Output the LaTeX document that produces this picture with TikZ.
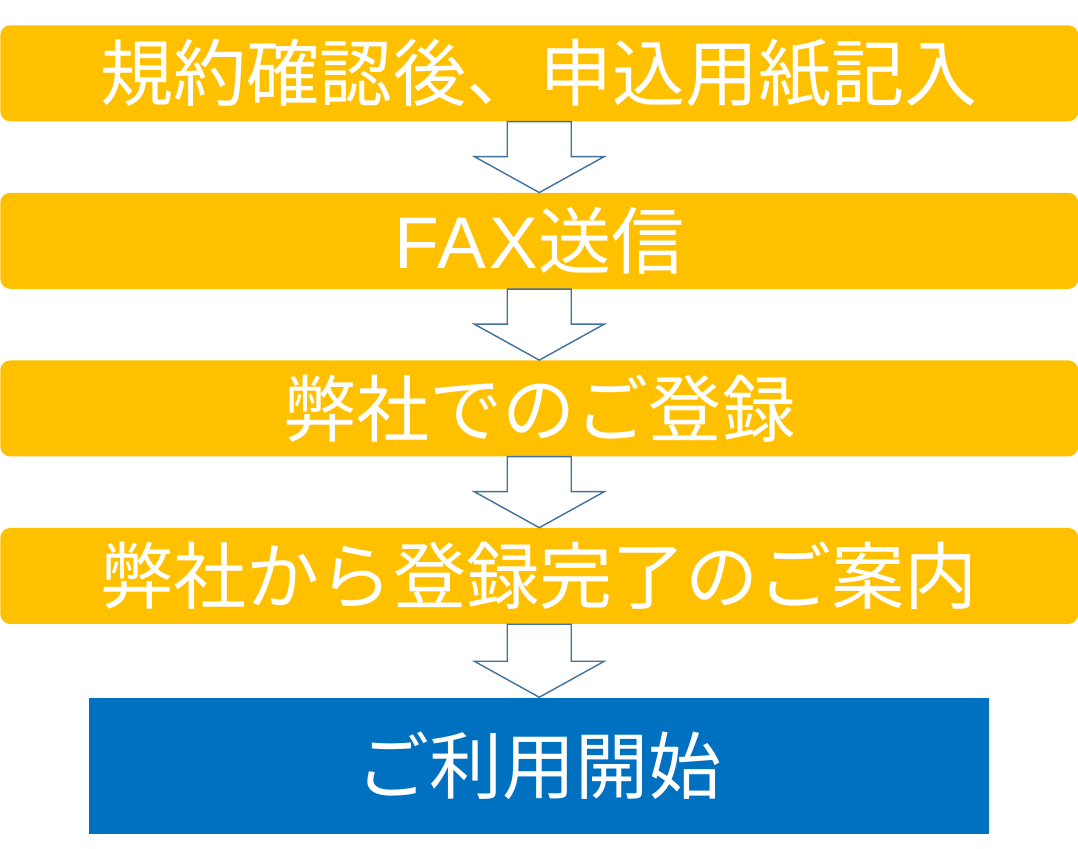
\documentclass[tikz,border=0pt]{standalone}
\usepackage{fontspec}
\newfontfamily\jpfont{Noto Sans CJK JP}
\newfontfamily\latinfont[LetterSpace=4]{Liberation Sans}
\usepackage{tikz}
\usetikzlibrary{positioning, calc}
\definecolor{stepyellow}{HTML}{FFC000}
\definecolor{startblue}{HTML}{0070C0}
\definecolor{arrowline}{HTML}{41719C}
\newcommand{\flowarrow}[2]{%
  \draw[blockarr] ($(#1.south)+(-0.8,0)$) -- ($(#2.north)+(-0.8,0.9)$)
    -- ($(#2.north)+(-1.625,0.9)$) -- (#2.north)
    -- ($(#2.north)+(1.625,0.9)$) -- ($(#2.north)+(0.8,0.9)$)
    -- ($(#1.south)+(0.8,0)$) -- cycle;}

\begin{document}
\begin{tikzpicture}[
      node distance=1.775cm,
      stepbox/.style={fill=stepyellow, rounded corners=0.25cm, text=white,
                      minimum width=26.95cm, minimum height=2.4cm, inner sep=0pt,
                      font=\jpfont\fontsize{52}{60}\selectfont},
      startbox/.style={stepbox, fill=startblue, rounded corners=0pt,
                       minimum width=22.5cm, minimum height=3.4cm},
      blockarr/.style={draw=arrowline, fill=white, line width=1pt, line join=miter}
    ]
    \useasboundingbox (0,0) rectangle (26.95,-21.225);
    \node[stepbox, anchor=north west] (rules) at (0,-0.625) {規約確認後、申込用紙記入};
    \node[stepbox, below=of rules] (fax) {{\latinfont FAX}送信};
    \node[stepbox, below=of fax] (register) {弊社でのご登録};
    \node[stepbox, below=of register] (notice) {弊社から登録完了のご案内};
    \node[startbox, below=1.825cm of notice] (start) {ご利用開始};

    \flowarrow{rules}{fax}
    \flowarrow{fax}{register}
    \flowarrow{register}{notice}
    \flowarrow{notice}{start}
  \end{tikzpicture}
\end{document}
